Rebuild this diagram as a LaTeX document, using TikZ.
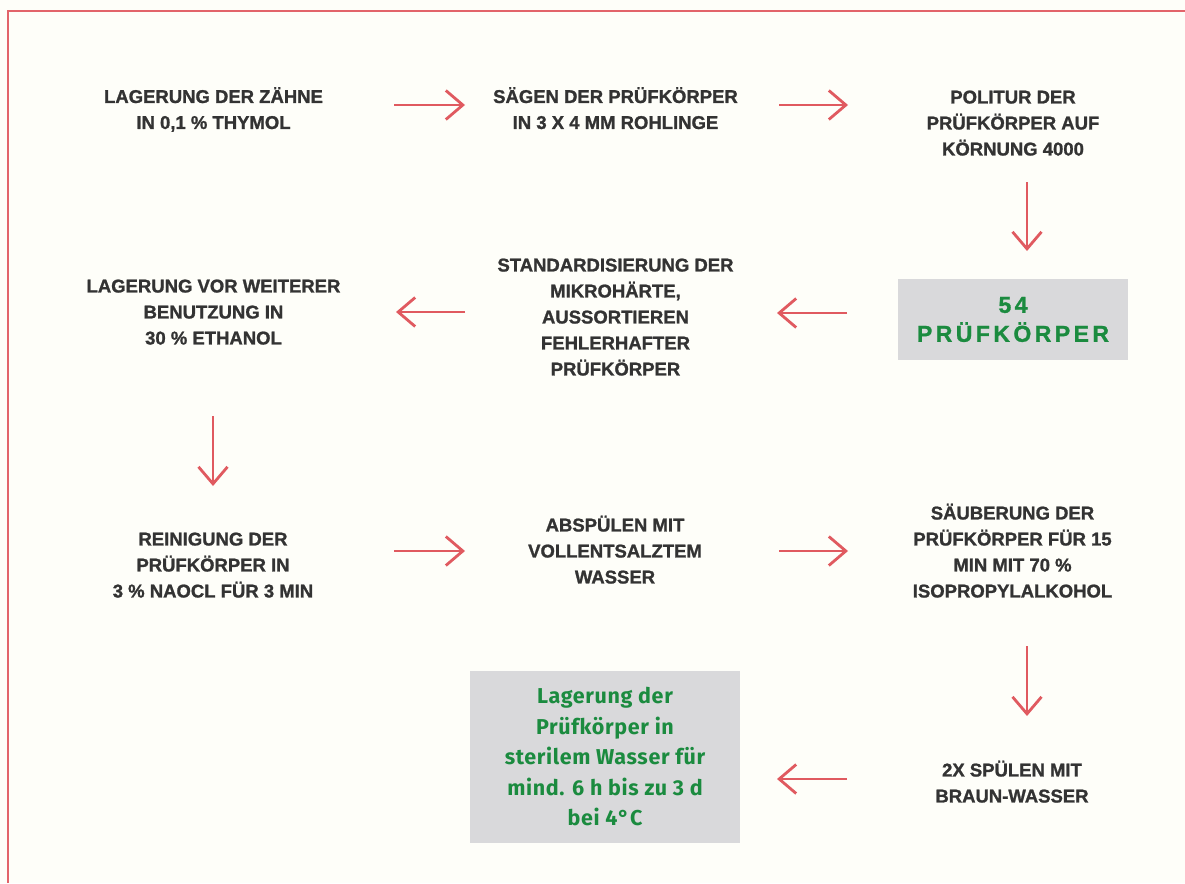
\documentclass[tikz,border=0pt]{standalone}
\usepackage{fontspec}
\setmainfont{Liberation Sans}[BoldFeatures={FakeBold=1.2}]
\newfontfamily\greenfont{Fira Sans}
\usetikzlibrary{arrows.meta}
\definecolor{bg}{HTML}{FEFEF9}
\definecolor{framered}{HTML}{E2646A}
\definecolor{arrowred}{HTML}{E05A60}
\definecolor{txt}{HTML}{333333}
\definecolor{boxgray}{HTML}{D9D9DB}
\definecolor{grn}{HTML}{1B8B3F}
\newcommand\lnph{\vphantom{Ä,}}
\begin{document}
\begin{tikzpicture}[x=1pt,y=1pt,
  lbl/.style={font=\fontsize{18.5}{26}\selectfont\bfseries, text=txt, align=center, inner sep=0pt},
  arr/.style={draw=arrowred, line width=2.8pt, -{Straight Barb[length=17pt,width=29pt]}},
  graybox/.style={fill=boxgray, inner sep=0pt, align=center, text=grn}
]
\fill[bg] (0,0) rectangle (1185,-883);
\useasboundingbox (0,0) rectangle (1185,-883);
\draw[framered, line width=2pt] (7.5,-883) -- (7.5,-11.5) -- (1185,-11.5);

% row 1
\node[lbl] (t1) at (213.5,-109.5) {\lnph LAGERUNG DER ZÄHNE\\IN 0,1 \% THYMOL\lnph};
\node[lbl] (t2) at (615.5,-109.5) {\lnph SÄGEN DER PRÜFKÖRPER\\IN 3 X 4 MM ROHLINGE\lnph};
\node[lbl] (t3) at (1013,-123) {\lnph POLITUR DER\\PRÜFKÖRPER AUF\\KÖRNUNG 4000\lnph};

% row 2
\node[graybox, minimum width=230pt, minimum height=81pt,
      font=\fontsize{23}{29}\selectfont\bfseries\addfontfeatures{LetterSpace=15}]
      (b1) at (1013,-319.5) {54\\PRÜFKÖRPER};
\node[lbl] (t5) at (615.5,-317) {\lnph STANDARDISIERUNG DER\\MIKROHÄRTE,\\AUSSORTIEREN\\FEHLERHAFTER\\PRÜFKÖRPER\lnph};
\node[lbl] (t6) at (213.5,-312) {\lnph LAGERUNG VOR WEITERER\\BENUTZUNG IN\\30 \% ETHANOL\lnph};

% row 3
\node[lbl] (t7) at (213,-565) {\lnph REINIGUNG DER\\PRÜFKÖRPER IN\\3 \% NAOCL FÜR 3 MIN\lnph};
\node[lbl] (t8) at (615,-551) {\lnph ABSPÜLEN MIT\\VOLLENTSALZTEM\\WASSER\lnph};
\node[lbl] (t9) at (1012.5,-552) {\lnph SÄUBERUNG DER\\PRÜFKÖRPER FÜR 15\\MIN MIT 70 \%\\ISOPROPYLALKOHOL\lnph};

% row 4
\node[lbl] (t10) at (1012,-783) {\lnph 2X SPÜLEN MIT\\BRAUN-WASSER\lnph};
\node[graybox, minimum width=270pt, minimum height=172pt,
      font=\greenfont\fontsize{21.5}{30.5}\selectfont\bfseries\addfontfeatures{LetterSpace=3}]
      (b2) at (605,-757) {Lagerung der\\Prüfkörper in\\sterilem Wasser für\\mind. 6 h bis zu 3 d\\bei 4°C};

% arrows
\draw[arr] ([shift={(180.5,4.5)}]t1.center) -- ([shift={(-150.5,4.5)}]t2.center);
\draw[arr] ([shift={(163.5,4.5)}]t2.center) -- ([shift={(-165,18)}]t3.center);
\draw[arr] ([shift={(14,-59)}]t3.center) -- ([shift={(14,68.5)}]b1.center);
\draw[arr] ([shift={(-166,6.5)}]b1.center) -- ([shift={(161.5,4)}]t5.center);
\draw[arr] ([shift={(-150.5,5)}]t5.center) -- ([shift={(182.5,0)}]t6.center);
\draw[arr] ([shift={(-0.5,-104)}]t6.center) -- ([shift={(0,79)}]t7.center);
\draw[arr] ([shift={(181,14)}]t7.center) -- ([shift={(-150,0)}]t8.center);
\draw[arr] ([shift={(164,0)}]t8.center) -- ([shift={(-164.5,1)}]t9.center);
\draw[arr] ([shift={(14.5,-94)}]t9.center) -- ([shift={(15,67)}]t10.center);
\draw[arr] ([shift={(-165,4)}]t10.center) -- ([shift={(172,-22)}]b2.center);
\end{tikzpicture}
\end{document}
